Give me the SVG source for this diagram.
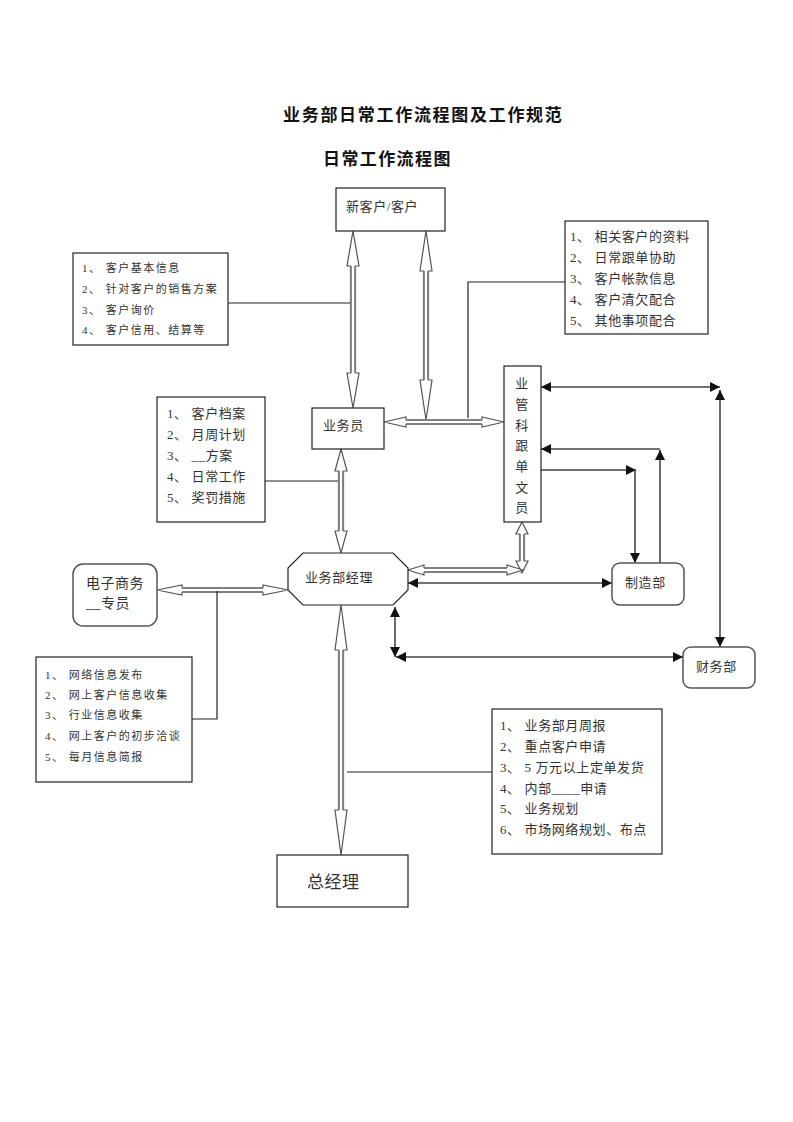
<svg xmlns="http://www.w3.org/2000/svg" width="793" height="1122" viewBox="0 0 793 1122">
<style>
.bg{fill:#fff}
.box{fill:#fff;stroke:#222;stroke-width:1.2}
.rbox{fill:#fff;stroke:#555;stroke-width:1.5}
.t{font-family:"Liberation Serif","Noto Sans CJK SC",serif;fill:#333}
.s13{font-size:13px;letter-spacing:0.6px}
.s11{font-size:11px;letter-spacing:1.5px}
.title{font-family:"Noto Sans CJK SC",sans-serif;font-weight:bold;font-size:17px;fill:#111}
.ha{fill:#fff;stroke:#555;stroke-width:1.2}
.ln{fill:none;stroke:#222;stroke-width:1.2}
.ar{fill:none;stroke:#444;stroke-width:1.6}
</style>
<defs>
<marker id="ah" viewBox="0 0 10 10" refX="10" refY="5" markerWidth="10" markerHeight="10" markerUnits="userSpaceOnUse" orient="auto-start-reverse">
<path d="M0,0 L10,5 L0,10 z" fill="#111"/>
</marker>
</defs>
<rect class="bg" x="0" y="0" width="793" height="1122"/>
<text class="title" x="283" y="121" letter-spacing="1.7">业务部日常工作流程图及工作规范</text>
<text class="title" x="323" y="165" letter-spacing="1.4">日常工作流程图</text>

<g id="connectors">
<polygon class="ha" points="353,231 359,266 355.5,266 355.5,373 359,373 353,408 347,373 350.5,373 350.5,266 347,266"/>
<polygon class="ha" points="426,231 432,271 428.5,271 428.5,380 432,380 426,420 420,380 423.5,380 423.5,271 420,271"/>
<polygon class="ha" points="341,449 347,471 343.5,471 343.5,531 347,531 341,553 335,531 338.5,531 338.5,471 335,471"/>
<polygon class="ha" points="384,422 406,417 406,419.5 482,419.5 482,417 504,422 482,427 482,424.5 406,424.5 406,427"/>
<polygon class="ha" points="522,522 528,534 524.5,534 524.5,561 528,561 522,573 516,561 519.5,561 519.5,534 516,534"/>
<polygon class="ha" points="408,570 424,565 424,567.5 507,567.5 507,565 523,570 507,575 507,572.5 424,572.5 424,575"/>
<polygon class="ha" points="157,590 182,585 182,587.5 263,587.5 263,585 288,590 263,595 263,592.5 182,592.5 182,595"/>
<polygon class="ha" points="341,605 347,650 343.5,650 343.5,810 347,810 341,855 335,810 338.5,810 338.5,650 335,650"/>
<g stroke="#808080" stroke-width="1.8">
<line x1="351" y1="266" x2="351" y2="373"/><line x1="355" y1="266" x2="355" y2="373"/>
<line x1="424" y1="271" x2="424" y2="380"/><line x1="428" y1="271" x2="428" y2="380"/>
<line x1="339" y1="471" x2="339" y2="531"/><line x1="343" y1="471" x2="343" y2="531"/>
<line x1="406" y1="420" x2="482" y2="420"/><line x1="406" y1="424" x2="482" y2="424"/>
<line x1="520" y1="534" x2="520" y2="561"/><line x1="524" y1="534" x2="524" y2="561"/>
<line x1="424" y1="568" x2="507" y2="568"/><line x1="424" y1="572" x2="507" y2="572"/>
<line x1="182" y1="588" x2="263" y2="588"/><line x1="182" y1="592" x2="263" y2="592"/>
<line x1="339" y1="650" x2="339" y2="810"/><line x1="343" y1="650" x2="343" y2="810"/>
</g>
<polyline class="ln" points="228,303 350,303"/>
<polyline class="ln" points="565,282 468,282 468,418"/>
<polyline class="ln" points="265,481 338,481"/>
<polyline class="ln" points="217,591 217,719 192,719"/>
<polyline class="ln" points="347,772 492,772"/>
<line class="ar" x1="541" y1="387" x2="720" y2="387" marker-start="url(#ah)" marker-end="url(#ah)"/>
<line class="ar" x1="720" y1="390" x2="720" y2="647" stroke="#777" marker-start="url(#ah)" marker-end="url(#ah)"/>
<line class="ar" x1="660" y1="563" x2="660" y2="450" stroke="#777" marker-end="url(#ah)"/>
<line class="ar" x1="660" y1="449" x2="541" y2="449" marker-end="url(#ah)"/>
<line class="ar" x1="541" y1="470" x2="636" y2="470" marker-end="url(#ah)"/>
<line class="ar" x1="635" y1="470" x2="635" y2="563" stroke="#777" marker-end="url(#ah)"/>
<line class="ar" x1="408" y1="583" x2="612" y2="583" marker-start="url(#ah)" marker-end="url(#ah)"/>
<line class="ar" x1="395" y1="607" x2="395" y2="657" marker-start="url(#ah)" marker-end="url(#ah)"/>
<line class="ar" x1="396" y1="657" x2="683" y2="657" marker-start="url(#ah)" marker-end="url(#ah)"/>
</g>

<g id="n_newcust">
<rect class="box" x="336" y="188" width="109" height="43"/>
<text class="t s13" x="346" y="211">新客户/客户</text>
</g>
<g id="n_info1">
<rect class="box" x="73" y="253" width="155" height="92"/>
<text class="t s11" x="82" y="272">1、 客户基本信息</text>
<text class="t s11" x="82" y="293">2、 针对客户的销售方案</text>
<text class="t s11" x="82" y="314">3、 客户询价</text>
<text class="t s11" x="82" y="334">4、 客户信用、结算等</text>
</g>
<g id="n_info2">
<rect class="box" x="565" y="221" width="143" height="113"/>
<text class="t s13" x="570" y="240.5">1、 相关客户的资料</text>
<text class="t s13" x="570" y="261.5">2、 日常跟单协助</text>
<text class="t s13" x="570" y="282.5">3、 客户帐款信息</text>
<text class="t s13" x="570" y="303.5">4、 客户清欠配合</text>
<text class="t s13" x="570" y="324.5">5、 其他事项配合</text>
</g>
<g id="n_info3">
<rect class="box" x="157" y="397" width="108" height="125"/>
<text class="t s13" x="167" y="417.5">1、 客户档案</text>
<text class="t s13" x="167" y="438.5">2、 月周计划</text>
<text class="t s13" x="167" y="459.5">3、 __方案</text>
<text class="t s13" x="167" y="480.5">4、 日常工作</text>
<text class="t s13" x="167" y="501.5">5、 奖罚措施</text>
</g>
<g id="n_salesman">
<rect class="box" x="312" y="408" width="72" height="41"/>
<text class="t s13" x="323" y="430">业务员</text>
</g>
<g id="n_clerk">
<rect class="box" x="504" y="366" width="37" height="156"/>
<text class="t s13" x="522" y="387.5" text-anchor="middle">业</text>
<text class="t s13" x="522" y="408.5" text-anchor="middle">管</text>
<text class="t s13" x="522" y="429.5" text-anchor="middle">科</text>
<text class="t s13" x="522" y="449.5" text-anchor="middle">跟</text>
<text class="t s13" x="522" y="470.5" text-anchor="middle">单</text>
<text class="t s13" x="522" y="491.5" text-anchor="middle">文</text>
<text class="t s13" x="522" y="511.5" text-anchor="middle">员</text>
</g>
<g id="n_manager">
<polygon class="box" points="303,553 393,553 408,568 408,590 393,605 303,605 288,590 288,568"/>
<text class="t s13" x="305" y="582">业务部经理</text>
</g>
<g id="n_mfg">
<rect class="rbox" x="612" y="563" width="72" height="42" rx="8"/>
<text class="t s13" x="625" y="587">制造部</text>
</g>
<g id="n_fin">
<rect class="rbox" x="683" y="647" width="72" height="41" rx="8"/>
<text class="t s13" x="696" y="671">财务部</text>
</g>
<g id="n_ecom">
<rect class="rbox" x="73" y="564" width="84" height="62" rx="10"/>
<text class="t" x="86" y="588" font-size="14" letter-spacing="0.5">电子商务</text>
<text class="t" x="86" y="608" font-size="14" letter-spacing="0.5">__专员</text>
</g>
<g id="n_info4">
<rect class="box" x="36" y="657" width="156" height="125"/>
<text class="t s11" x="45" y="679">1、 网络信息发布</text>
<text class="t s11" x="45" y="699">2、 网上客户信息收集</text>
<text class="t s11" x="45" y="719">3、 行业信息收集</text>
<text class="t s11" x="45" y="740">4、 网上客户的初步洽谈</text>
<text class="t s11" x="45" y="761">5、 每月信息简报</text>
</g>
<g id="n_info5">
<rect class="box" x="492" y="709" width="170" height="145"/>
<text class="t s13" x="500" y="729.5">1、 业务部月周报</text>
<text class="t s13" x="500" y="750.5">2、 重点客户申请</text>
<text class="t s13" x="500" y="771.5">3、 5 万元以上定单发货</text>
<text class="t s13" x="500" y="792.5">4、 内部____申请</text>
<text class="t s13" x="500" y="812.5">5、 业务规划</text>
<text class="t s13" x="500" y="833.5">6、 市场网络规划、布点</text>
</g>
<g id="n_gm">
<rect class="box" x="277" y="855" width="131" height="52"/>
<text class="t" x="307" y="888" font-size="17" letter-spacing="0.5">总经理</text>
</g>
</svg>
